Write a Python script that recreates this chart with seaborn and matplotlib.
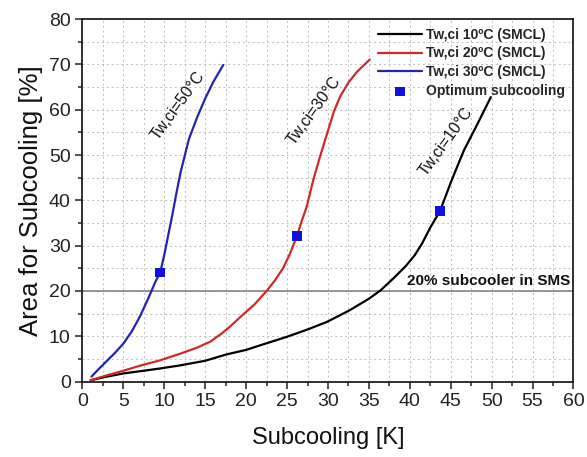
import matplotlib
matplotlib.use("Agg")

import matplotlib.pyplot as plt
from matplotlib.ticker import MultipleLocator
import pandas as pd
import seaborn as sns

# ── Data ───────────────────────────────────────────────────────────────

x_10 = [1, 3, 5, 7.5, 9.5, 12, 15, 17.6, 20, 21.7, 25, 27.5, 29.9, 32.7, 35,
        36.4, 38, 39.5, 40.6, 41.5, 42.5, 43.7, 45.1, 46.6, 48.3, 49.9]
y_10 = [0.3, 1.1, 1.8, 2.4, 2.9, 3.6, 4.6, 6.0, 7.0, 8.0, 9.9, 11.5, 13.2, 15.8, 18.3,
        20.1, 22.8, 25.5, 27.9, 30.5, 34.0, 37.7, 44.4, 51.0, 57.0, 62.8]

x_20 = [1, 3, 5, 7, 9.5, 12, 14, 15.6, 17, 18, 19.5, 21, 22.5, 23.5, 24.5, 25.3,
        26.2, 26.8, 27.4, 28.2, 29, 29.9, 30.7, 31.5, 32.5, 33.5, 35.1]
y_20 = [0.3, 1.4, 2.4, 3.5, 4.7, 6.2, 7.5, 8.8, 10.6, 12.1, 14.6, 17.0, 20.0, 22.3, 25.0, 28.0,
        32.1, 35.5, 38.6, 44.5, 49.5, 54.8, 59.5, 63.0, 66.0, 68.3, 71.1]

x_30 = [1.1, 2, 3, 4, 5, 6, 7, 8, 8.9, 9.5, 10, 10.5, 11, 11.5, 12, 13, 14, 15, 16, 17.2]
y_30 = [1.1, 2.8, 4.6, 6.4, 8.4, 11.0, 14.3, 18.2, 22.0, 24.1, 28.0, 32.5, 37.0, 41.8, 46.3,
        53.5, 58.3, 62.5, 66.2, 69.9]

opt_x = [9.5, 26.2, 43.7]
opt_y = [24.1, 32.1, 37.7]

series_labels = ["Tw,ci 10ºC (SMCL)", "Tw,ci 20ºC (SMCL)", "Tw,ci 30ºC (SMCL)"]
series_colors = ["#000000", "#d22828", "#2323b4"]

curve_notes = ["Tw,ci=50°C", "Tw,ci=30°C", "Tw,ci=10°C"]
note_x = [11.7, 28.3, 44.4]
note_y = [61.0, 59.9, 53.0]

sms_share = 20

# ── Plot ───────────────────────────────────────────────────────────────

sns.set_theme(style="ticks")
plt.rcParams["font.family"] = ["Liberation Sans", "DejaVu Sans"]

fig = plt.figure(figsize=(5.87, 4.57), dpi=100)
ax = fig.add_axes([0.1405, 0.165, 0.8365, 0.793])

curves = pd.concat([
    pd.DataFrame({"x": xs, "y": ys, "series": lab})
    for xs, ys, lab in zip([x_10, x_20, x_30], [y_10, y_20, y_30], series_labels)
])
sns.lineplot(data=curves, x="x", y="y", hue="series", palette=series_colors,
             hue_order=series_labels, estimator=None, sort=False,
             linewidth=1.6, ax=ax, zorder=3)

sns.scatterplot(x=opt_x, y=opt_y, marker="s", s=48, color="#1010e0",
                edgecolor="none", label="Optimum subcooling", ax=ax, zorder=4)

ax.axhline(sms_share, color="#7a7a7a", linewidth=1.1, zorder=2)
ax.text(59.6, sms_share + 0.6, "20% subcooler in SMS", ha="right", va="bottom",
        fontsize=11, fontweight="bold", color="#111111")

for txt, tx, ty in zip(curve_notes, note_x, note_y):
    ax.text(tx, ty, txt, rotation=54, ha="center", va="center", fontsize=11.5,
            color="#111111")

ax.set_xlim(0, 60)
ax.set_ylim(0, 80)
ax.xaxis.set_major_locator(MultipleLocator(5))
ax.xaxis.set_minor_locator(MultipleLocator(2.5))
ax.yaxis.set_major_locator(MultipleLocator(10))
ax.yaxis.set_minor_locator(MultipleLocator(5))
ax.grid(True, which="both", linestyle=(0, (2, 3)), color="#bdbdbd", linewidth=0.7)
ax.tick_params(which="major", direction="out", length=5, width=1.1, labelsize=14,
               color="#202020", labelcolor="#222222")
ax.tick_params(which="minor", direction="out", length=3, width=1.1, color="#202020")
for sp in ax.spines.values():
    sp.set_linewidth(1.3)
    sp.set_color("#202020")

ax.set_xlabel("Subcooling [K]", fontsize=17, labelpad=12, color="#111111")
ax.set_ylabel("Area for Subcooling [%]", fontsize=18.5, labelpad=4, color="#111111")

leg = ax.legend(loc="upper right", frameon=False, fontsize=10, handlelength=3.2,
                handletextpad=0.3, labelspacing=0.35, borderaxespad=0.2,
                bbox_to_anchor=(1.0, 1.0))
for t in leg.get_texts():
    t.set_fontweight("bold")

fig.savefig("out.png", dpi=100)
